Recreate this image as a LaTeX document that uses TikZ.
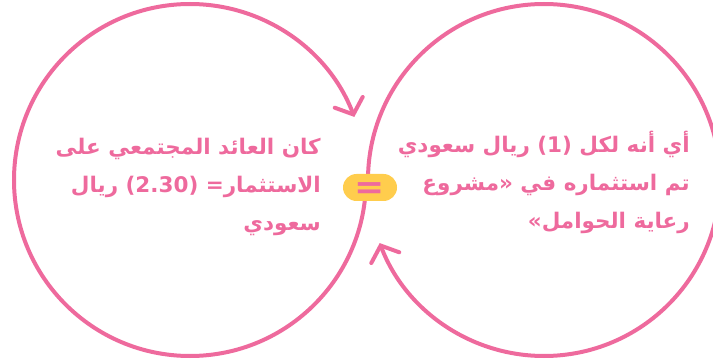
\documentclass[tikz,border=0pt]{standalone}
\usepackage{fontspec}
\usepackage{tikz}
\usetikzlibrary{arrows.meta, positioning}
\TeXXeTstate=1
\newfontfamily\arabicfont[Script=Arabic]{DejaVu Sans}
\newfontfamily\signfont{DejaVu Sans}
\definecolor{rosepink}{HTML}{EE6A9D}
\definecolor{pillyellow}{HTML}{FFCD4D}

\begin{document}
\begin{tikzpicture}[x=1pt,y=1pt,
    loop/.style={draw=rosepink, line width=4pt, line cap=round,
      -{Straight Barb[length=13pt,width=30pt,line cap=round]}},
    says/.style={text=rosepink, font=\arabicfont\bfseries\fontsize{21.5}{38}\selectfont,
      align=right, anchor=north east, inner sep=0pt},
    pill/.style={fill=pillyellow, rounded corners=13.5pt, minimum width=54pt,
      minimum height=27pt, inner sep=0pt, text=rosepink,
      font=\signfont\bfseries\fontsize{30}{30}\selectfont}]
  \useasboundingbox (0,0) rectangle (713,362);
  \coordinate (L) at (190,182);
  \coordinate (R) at (544,182);
  % the two turning arcs
  \draw[loop] (L) ++(0:176) arc[start angle=0, end angle=-339, radius=176];
  \draw[loop] (R) ++(180:176) arc[start angle=180, end angle=-159, radius=176];
  % equals sign between them
  \node[pill, text height=21.8pt, text depth=0pt] (eq) at (370,174.5)
    {\scalebox{1.2}[1.1]{=}};
  % the two texts
  \node[says] (result) at (321,224)
    {\beginR كان العائد المجتمعي على\endR\\
     \beginR الاستثمار= (\beginL 2.30\endL) ريال\endR\\
     \beginR سعودي\endR};
  \node[says] (meaning) at (690,231)
    {\beginR أي أنه لكل (\beginL 1\endL) ريال سعودي\endR\\
     \beginR تم استثماره في «مشروع\endR\\
     \beginR رعاية الحوامل»\endR};
\end{tikzpicture}
\end{document}
